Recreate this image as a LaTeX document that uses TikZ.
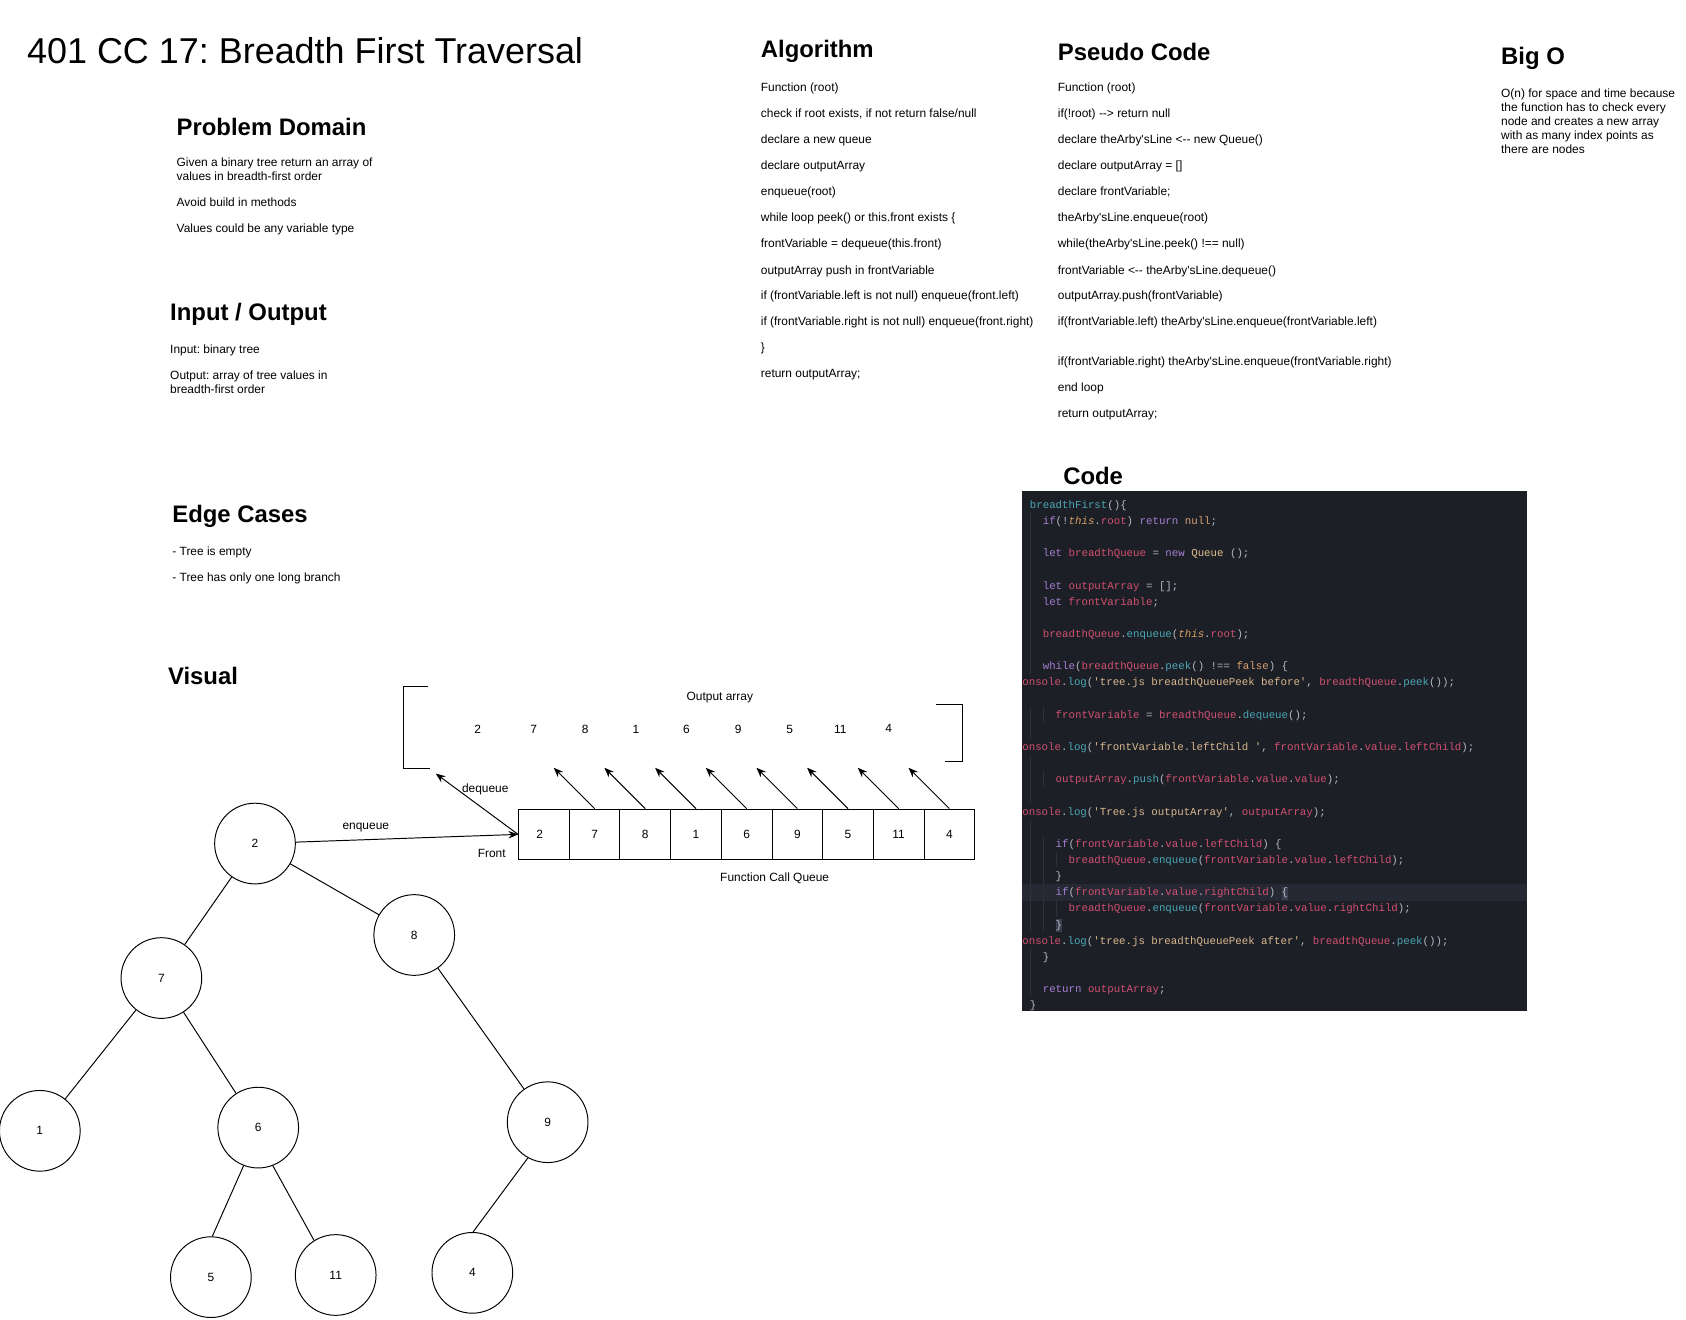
\documentclass[tikz,border=0pt]{standalone}
\usepackage{fontspec}
\usetikzlibrary{arrows.meta}
\newfontfamily\hel{Liberation Sans}
\newfontfamily\mono{Liberation Mono}
\frenchspacing
\definecolor{cbg}{HTML}{1D1F27}
\definecolor{cfn}{HTML}{4AA8B5}
\definecolor{cpn}{HTML}{B5B9C2}
\definecolor{ckw}{HTML}{A67FD1}
\definecolor{cvr}{HTML}{D1506F}
\definecolor{cth}{HTML}{D7A063}
\definecolor{cnl}{HTML}{D9A171}
\definecolor{ccl}{HTML}{E2C08D}
\definecolor{cst}{HTML}{D9B88F}
\definecolor{chl}{HTML}{262933}
\definecolor{cbr}{HTML}{3A3F4F}
\definecolor{cgd}{HTML}{2E313B}
\newcommand\Ckw[1]{\textcolor{ckw}{#1}}
\newcommand\Cf[1]{\textcolor{cfn}{#1}}
\newcommand\Cp[1]{\textcolor{cpn}{#1}}
\newcommand\Cv[1]{\textcolor{cvr}{#1}}
\newcommand\Ct[1]{\textcolor{cth}{\itshape #1}}
\newcommand\Cn[1]{\textcolor{cnl}{#1}}
\newcommand\Cc[1]{\textcolor{ccl}{#1}}
\newcommand\Cs[1]{\textcolor{cst}{#1}}
\newcommand\Hb[1]{{\setlength\fboxsep{0pt}\colorbox{cbr}{\textcolor{cpn}{\strut #1}}}}
\begin{document}
\begin{tikzpicture}[x=1pt,y=-1pt,
  txt/.style={anchor=west,inner sep=0pt,font=\hel\fontsize{11.1}{13}\selectfont,text height=8.5pt,text depth=3pt},
  head/.style={anchor=west,inner sep=0pt,font=\hel\bfseries\fontsize{22.2}{26}\selectfont},
  ttl/.style={anchor=west,inner sep=0pt,font=\hel\fontsize{33.4}{40}\selectfont},
  cl/.style={anchor=west,inner sep=0pt,font=\mono\fontsize{10}{12}\selectfont,text height=7.5pt,text depth=2.5pt},
  tn/.style={circle,draw,line width=0.9pt,minimum size=75pt,inner sep=0pt,font=\hel\fontsize{11.1}{13}\selectfont},
  qb/.style={rectangle,draw,line width=0.9pt,minimum width=47.1pt,minimum height=47pt,inner sep=0pt,font=\hel\fontsize{11.1}{13}\selectfont},
  lbl/.style={inner sep=0pt,font=\hel\fontsize{11.1}{13}\selectfont},
  arr/.style={line width=0.9pt,-{Stealth[length=9pt,width=7pt]}},
  tedge/.style={line width=0.9pt},
  guide/.style={cgd,line width=1pt}
]
\useasboundingbox (0,0) rectangle (1567,1226);
\fill[white] (0,0) rectangle (1567,1226);

% ---------- Title ----------
\node[ttl] (title) at (25,47) {401 CC 17: Breadth First Traversal};

% ---------- Problem Domain ----------
\node[head] (hpd) at (164,118) {Problem Domain};
\node[txt] (pd1) at (164,152) {Given a binary tree return an array of};
\node[txt] (pd2) at (164,165) {values in breadth-first order};
\node[txt] (pd3) at (164,189) {Avoid build in methods};
\node[txt] (pd4) at (164,213) {Values could be any variable type};

% ---------- Input / Output ----------
\node[head] (hio) at (158,292) {Input / Output};
\node[txt] (io1) at (158,326) {Input: binary tree};
\node[txt] (io2) at (158,350) {Output: array of tree values in};
\node[txt] (io3) at (158,363) {breadth-first order};

% ---------- Edge Cases ----------
\node[head] (hec) at (160,480) {Edge Cases};
\node[txt] (ec1) at (160,514) {- Tree is empty};
\node[txt] (ec2) at (160,538) {- Tree has only one long branch};

% ---------- Visual ----------
\node[head] (hvi) at (156,628) {Visual};

% ---------- Algorithm ----------
\node[head] (hal) at (707,48) {Algorithm};
\node[txt] (al1) at (707,82) {Function (root)};
\node[txt] (al2) at (707,106) {check if root exists, if not return false/null};
\node[txt] (al3) at (707,131) {declare a new queue};
\node[txt] (al4) at (707,155) {declare outputArray};
\node[txt] (al5) at (707,179) {enqueue(root)};
\node[txt] (al6) at (707,203) {while loop peek() or this.front exists \{};
\node[txt] (al7) at (707,227) {frontVariable = dequeue(this.front)};
\node[txt] (al8) at (707,252) {outputArray push in frontVariable};
\node[txt] (al9) at (707,276) {if (frontVariable.left is not null) enqueue(front.left)};
\node[txt] (al10) at (707,300) {if (frontVariable.right is not null) enqueue(front.right)};
\node[txt] (al11) at (707,324) {\}};
\node[txt] (al12) at (707,348) {return outputArray;};

% ---------- Pseudo Code ----------
\node[head] (hps) at (983,48) {Pseudo Code};
\node[txt] (ps1) at (983,82) {Function (root)};
\node[txt] (ps2) at (983,106) {if(!root) --> return null};
\node[txt] (ps3) at (983,131) {declare theArby'sLine <-- new Queue()};
\node[txt] (ps4) at (983,155) {declare outputArray = []};
\node[txt] (ps5) at (983,179) {declare frontVariable;};
\node[txt] (ps6) at (983,203) {theArby'sLine.enqueue(root)};
\node[txt] (ps7) at (983,227) {while(theArby'sLine.peek() !== null)};
\node[txt] (ps8) at (983,252) {frontVariable <-- theArby'sLine.dequeue()};
\node[txt] (ps9) at (983,276) {outputArray.push(frontVariable)};
\node[txt] (ps10) at (983,300) {if(frontVariable.left) theArby'sLine.enqueue(frontVariable.left)};
\node[txt] (ps11) at (983,337) {if(frontVariable.right) theArby'sLine.enqueue(frontVariable.right)};
\node[txt] (ps12) at (983,361) {end loop};
\node[txt] (ps13) at (983,385) {return outputArray;};

% ---------- Big O ----------
\node[head] (hbo) at (1395,54) {Big O};
\node[txt] (bo1) at (1395,88) {O(n) for space and time because};
\node[txt] (bo2) at (1395,101) {the function has to check every};
\node[txt] (bo3) at (1395,114) {node and creates a new array};
\node[txt] (bo4) at (1395,127) {with as many index points as};
\node[txt] (bo5) at (1395,140) {there are nodes};

% ---------- Code ----------
\node[head] (hco) at (988,442) {Code};
\fill[cbg] (950,456) rectangle (1419,940);
\fill[chl] (950,822) rectangle (1419,837);
% indent guides
\draw[guide] (958,477) -- (958,626);
\draw[guide] (958,657) -- (958,686);
\draw[guide] (958,702) -- (958,746);
\draw[guide] (958,762) -- (958,866);
\draw[guide] (958,882) -- (958,926);
\draw[guide] (970,657) -- (970,671);
\draw[guide] (970,717) -- (970,731);
\draw[guide] (970,777) -- (970,866);
\draw[guide] (982,792) -- (982,806);
\draw[guide] (982,837) -- (982,851);

\node[cl] (c1) at (957,470) {\Cf{breadthFirst}\Cp{()\{}};
\node[cl] (c2) at (969,485) {\Ckw{if}\Cp{(!}\Ct{this}\Cp{.}\Cv{root}\Cp{)} \Ckw{return} \Cn{null}\Cp{;}};
\node[cl] (c3) at (969,515) {\Ckw{let} \Cv{breadthQueue} \Cp{=} \Ckw{new} \Cc{Queue} \Cp{();}};
\node[cl] (c4) at (969,545) {\Ckw{let} \Cv{outputArray} \Cp{= [];}};
\node[cl] (c5) at (969,560) {\Ckw{let} \Cv{frontVariable}\Cp{;}};
\node[cl] (c6) at (969,590) {\Cv{breadthQueue}\Cp{.}\Cf{enqueue}\Cp{(}\Ct{this}\Cp{.}\Cv{root}\Cp{);}};
\node[cl] (c7) at (969,620) {\Ckw{while}\Cp{(}\Cv{breadthQueue}\Cp{.}\Cf{peek}\Cp{() !==} \Cn{false}\Cp{) \{}};
\node[cl] (c8) at (950,635) {\Cv{onsole}\Cp{.}\Cf{log}\Cp{(}\Cs{'tree.js breadthQueuePeek before'}\Cp{,} \Cv{breadthQueue}\Cp{.}\Cf{peek}\Cp{());}};
\node[cl] (c9) at (981,665) {\Cv{frontVariable} \Cp{=} \Cv{breadthQueue}\Cp{.}\Cf{dequeue}\Cp{();}};
\node[cl] (c10) at (950,695) {\Cv{onsole}\Cp{.}\Cf{log}\Cp{(}\Cs{'frontVariable.leftChild '}\Cp{,} \Cv{frontVariable}\Cp{.}\Cv{value}\Cp{.}\Cv{leftChild}\Cp{);}};
\node[cl] (c11) at (981,725) {\Cv{outputArray}\Cp{.}\Cf{push}\Cp{(}\Cv{frontVariable}\Cp{.}\Cv{value}\Cp{.}\Cv{value}\Cp{);}};
\node[cl] (c12) at (950,755) {\Cv{onsole}\Cp{.}\Cf{log}\Cp{(}\Cs{'Tree.js outputArray'}\Cp{,} \Cv{outputArray}\Cp{);}};
\node[cl] (c13) at (981,785) {\Ckw{if}\Cp{(}\Cv{frontVariable}\Cp{.}\Cv{value}\Cp{.}\Cv{leftChild}\Cp{) \{}};
\node[cl] (c14) at (993,800) {\Cv{breadthQueue}\Cp{.}\Cf{enqueue}\Cp{(}\Cv{frontVariable}\Cp{.}\Cv{value}\Cp{.}\Cv{leftChild}\Cp{);}};
\node[cl] (c15) at (981,815) {\Cp{\}}};
\node[cl] (c16) at (981,830) {\Ckw{if}\Cp{(}\Cv{frontVariable}\Cp{.}\Cv{value}\Cp{.}\Cv{rightChild}\Cp{)} \Hb{\{}};
\node[cl] (c17) at (993,845) {\Cv{breadthQueue}\Cp{.}\Cf{enqueue}\Cp{(}\Cv{frontVariable}\Cp{.}\Cv{value}\Cp{.}\Cv{rightChild}\Cp{);}};
\node[cl] (c18) at (981,860) {\Hb{\}}};
\node[cl] (c19) at (950,875) {\Cv{onsole}\Cp{.}\Cf{log}\Cp{(}\Cs{'tree.js breadthQueuePeek after'}\Cp{,} \Cv{breadthQueue}\Cp{.}\Cf{peek}\Cp{());}};
\node[cl] (c20) at (969,890) {\Cp{\}}};
\node[cl] (c21) at (969,920) {\Ckw{return} \Cv{outputArray}\Cp{;}};
\node[cl] (c22) at (957,935) {\Cp{\}}};

% ---------- Output array ----------
\draw[line width=0.9pt] (398,638) -- (375,638) -- (375,714) -- (400,714);
\draw[line width=0.9pt] (870,655) -- (895,655) -- (895,708) -- (878,708);
\node[lbl] (oalbl) at (669,648) {Output array};
\node[lbl] (o1) at (444,678) {2};
\node[lbl] (o2) at (496,678) {7};
\node[lbl] (o3) at (544,678) {8};
\node[lbl] (o4) at (591,678) {1};
\node[lbl] (o5) at (638,678) {6};
\node[lbl] (o6) at (686,678) {9};
\node[lbl] (o7) at (734,678) {5};
\node[lbl] (o8) at (781,678) {11};
\node[lbl] (o9) at (826,677) {4};

% ---------- Queue ----------
\foreach \i/\v in {1/{2\kern8pt},2/7,3/8,4/1,5/6,6/9,7/5,8/11,9/4}{
  \node[qb] (q\i) at ({482+23.55+47.1*(\i-1)},775.5) {\v};
}
\node[lbl] (front) at (457,793) {Front};
\node[lbl] (fcq) at (720,816) {Function Call Queue};
\node[lbl] (deq) at (451,734) {dequeue};
\node[lbl] (enq) at (340,769) {enqueue};

\coordinate (dqend) at (405,719);
\draw[arr] (q1.west) -- (dqend);
\foreach \i in {2,...,9}{
  \path (q\i.north) ++(-38,-38) coordinate (a\i);
  \draw[arr] (q\i.north) -- (a\i);
}

% ---------- Tree ----------
\node[tn] (n2) at (237,784) {2};
\node[tn] (n8) at (385,869) {8};
\node[tn] (n7) at (150,909) {7};
\node[tn] (n1) at (37,1051) {1};
\node[tn] (n6) at (240,1048) {6};
\node[tn] (n9) at (509,1043) {9};
\node[tn] (n5) at (196,1187) {5};
\node[tn] (n11) at (312,1185) {11};
\node[tn] (n4) at (439,1183) {4};

\draw[tedge] (n2) -- (n7);
\draw[tedge] (n2) -- (n8);
\draw[tedge] (n7) -- (n1);
\draw[tedge] (n7) -- (n6);
\draw[tedge] (n8) -- (n9);
\draw[tedge] (n6.249) -- (n5.88);
\draw[tedge] (n6.291) -- (n11.122);
\draw[tedge] (n9.241) -- (n4.89);
\draw[arr] (n2) -- (q1.west);
\end{tikzpicture}
\end{document}
